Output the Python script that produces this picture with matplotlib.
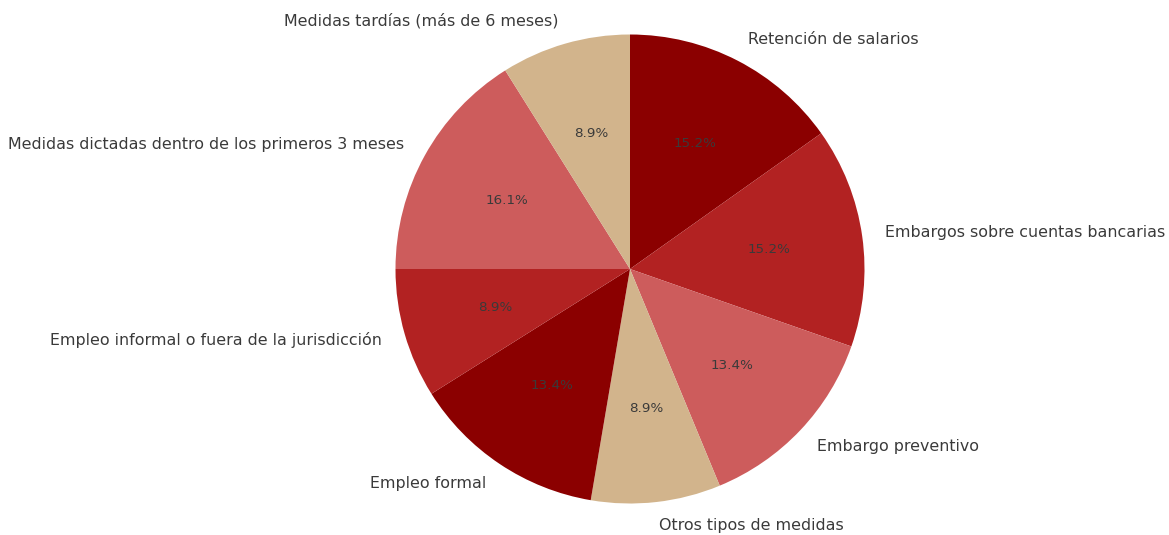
import matplotlib.pyplot as plt

etiquetas = ["Retención de salarios", "Embargos sobre cuentas bancarias",
             "Embargo preventivo", "Otros tipos de medidas", "Empleo formal",
             "Empleo informal o fuera de la jurisdicción",
             "Medidas dictadas dentro de los primeros 3 meses",
             "Medidas tardías (más de 6 meses)"]
casos = [17, 17, 15, 10, 15, 10, 18, 10]
colores = ["#8B0000", "#B22222", "#CD5C5C", "#D2B48C",
           "#8B0000", "#B22222", "#CD5C5C", "#D2B48C"]

plt.rcParams["font.family"] = ["DejaVu Sans"]

fig = plt.figure(figsize=(11.69, 5.35), dpi=100)
# centro del pastel en (630, 269) px desde arriba, radio ~234.5 px
lado = 2.5 * 234.5
ax = fig.add_axes([(630 - lado / 2) / 1169, (266 - lado / 2) / 535,
                   lado / 1169, lado / 535])
ax.pie(casos, labels=etiquetas, colors=colores, autopct="%1.1f%%",
       startangle=90, counterclock=False,
       textprops={"color": "#3a3a3a", "fontsize": 11.45})
for t in ax.texts:
    if t.get_text().endswith("%"):
        t.set_fontsize(9.7)
ax.set_xlim(-1.25, 1.25)
ax.set_ylim(-1.25, 1.25)
ax.set_aspect("equal")
fig.savefig("out.png", dpi=100)
